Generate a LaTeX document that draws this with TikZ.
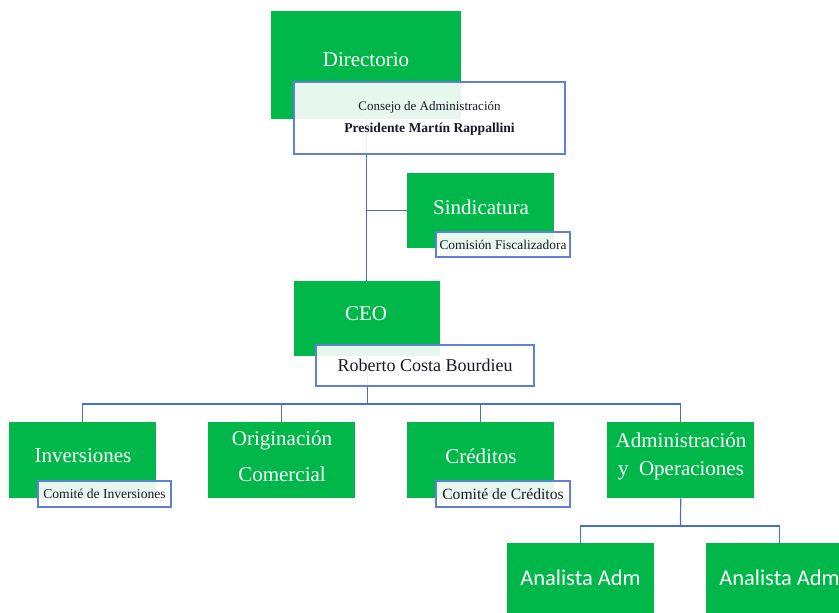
\documentclass[tikz,border=0pt]{standalone}
\usepackage{fontspec}
\setmainfont{Liberation Serif}
\newfontfamily\calib{Carlito}
\definecolor{gbox}{RGB}{0,183,74}
\definecolor{bline}{RGB}{72,112,200}
\definecolor{bborder}{RGB}{95,128,215}
\definecolor{dtext}{RGB}{25,25,40}
\tikzset{
  greenbox/.style={fill=gbox, draw=none, inner sep=0pt, anchor=north west},
  gtext/.style={text=white, font=\fontsize{21}{25}\selectfont, align=center, inner sep=0pt},
  whitebox/.style={fill=white, fill opacity=0.9, text opacity=1, draw=bborder, line width=1.2pt, inner sep=0pt, text=dtext, align=center},
  conn/.style={draw=bline, line width=1.2pt},
  anatext/.style={text=white, font=\calib\fontsize{22.5}{26}\selectfont, inner sep=0pt}
}
\begin{document}
\begin{tikzpicture}[x=1pt,y=-1pt]
\clip (0,0) rectangle (839,613);
\fill[white] (0,0) rectangle (839,613);
% green boxes
\node[greenbox, minimum width=190, minimum height=108] (dir) at (271,11) {};
\node[gtext] (dirt) at (366,60) {Directorio};
\node[greenbox, minimum width=147, minimum height=75] (sind) at (407,173) {};
\node[gtext] (sindt) at (481,207) {Sindicatura};
\node[greenbox, minimum width=146, minimum height=75] (ceo) at (294,281) {};
\node[gtext] (ceot) at (366,314) {CEO};
\node[greenbox, minimum width=147, minimum height=76] (inv) at (9,422) {};
\node[gtext] (invt) at (83,456) {Inversiones};
\node[greenbox, minimum width=147, minimum height=76] (ori) at (208,422) {};
\node[gtext, font=\fontsize{21}{36}\selectfont] (orit) at (282,456) {Originación\\Comercial};
\node[greenbox, minimum width=147, minimum height=76] (cre) at (407,422) {};
\node[gtext] (cret) at (481,456) {Créditos};
\node[greenbox, minimum width=147, minimum height=76] (adm) at (607,422) {};
\node[gtext, font=\fontsize{21}{28}\selectfont] (admt) at (681,456) {Administración\\y\ \ Operaciones};
\node[greenbox, minimum width=147, minimum height=80] (ana1) at (507,543) {};
\node[anatext] (ana1t) at (580.5,578) {Analista Adm};
\node[greenbox, minimum width=147, minimum height=80] (ana2) at (706,543) {};
\node[anatext] (ana2t) at (779.5,578) {Analista Adm};
% connectors
\coordinate (bus) at (366,404);
\coordinate (bus2) at (680.5,526);
\draw[conn] (dir.south) -- (ceo.north -| dir.south);
\draw[conn] (dir.south |- sind.west) -- (sind.west);
\draw[conn] (ceo.south) -- (ceo.south |- bus);
\draw[conn] (ceo.south |- bus) -| (inv.north);
\draw[conn] (ceo.south |- bus) -| (ori.north);
\draw[conn] (ceo.south |- bus) -| (cre.north);
\draw[conn] (ceo.south |- bus) -| (adm.north);
\draw[conn] (adm.south) -- (bus2);
\draw[conn] (bus2) -| (ana1.north);
\draw[conn] (bus2) -| (ana2.north);
% white boxes
\node[whitebox, minimum width=271, minimum height=72, font=\fontsize{13}{22}\selectfont] (cons) at (429.5,118)
  {Consejo de Administración\\{\bfseries\fontsize{13.6}{22}\selectfont Presidente Martín Rappallini}};
\node[whitebox, minimum width=134, minimum height=25, font=\fontsize{13.4}{15}\selectfont] (fisc) at (503,244.5) {Comisión Fiscalizadora};
\node[whitebox, minimum width=218, minimum height=41, font=\fontsize{18}{20}\selectfont] (rob) at (425,365.5) {Roberto Costa Bourdieu};
\node[whitebox, minimum width=133, minimum height=26, font=\fontsize{13.6}{15}\selectfont] (cinv) at (104.5,494) {Comité de Inversiones};
\node[whitebox, minimum width=134, minimum height=26, font=\fontsize{15.6}{17}\selectfont] (ccre) at (503,494) {Comité de Créditos};
\end{tikzpicture}
\end{document}
